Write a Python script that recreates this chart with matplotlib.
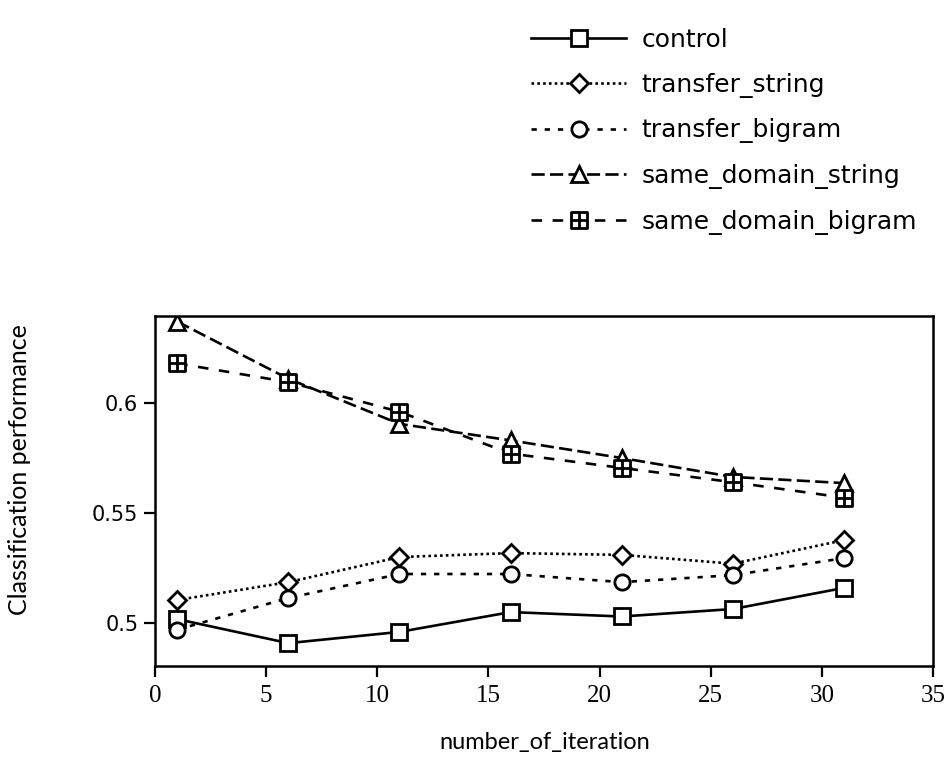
import matplotlib
matplotlib.use("Agg")
import matplotlib.pyplot as plt
import numpy as np
from matplotlib.path import Path

# data
iterations = [1, 6, 11, 16, 21, 26, 31]
control = [0.5018, 0.4909, 0.4960, 0.5050, 0.5030, 0.5064, 0.5160]
transfer_string = [0.5105, 0.5186, 0.5300, 0.5318, 0.5310, 0.5270, 0.5377]
transfer_bigram = [0.4970, 0.5114, 0.5223, 0.5223, 0.5186, 0.5218, 0.5295]
same_domain_string = [0.6370, 0.6110, 0.5905, 0.5830, 0.5750, 0.5664, 0.5636]
same_domain_bigram = [0.6180, 0.6095, 0.5960, 0.5770, 0.5705, 0.5640, 0.5570]
x_ticks = [0, 5, 10, 15, 20, 25, 30, 35]
y_ticks = [0.5, 0.55, 0.6]
y_tick_labels = ["0.5", "0.55", "0.6"]

# square with a cross inside
box_plus = Path(
    [(-1, -1), (1, -1), (1, 1), (-1, 1), (-1, -1), (-1, 0), (1, 0), (0, -1), (0, 1)],
    [Path.MOVETO, Path.LINETO, Path.LINETO, Path.LINETO, Path.CLOSEPOLY,
     Path.MOVETO, Path.LINETO, Path.MOVETO, Path.LINETO])

plt.rcParams["font.family"] = ["DejaVu Sans"]

fig = plt.figure(figsize=(9.53, 7.74), dpi=100)
ax = fig.add_axes([0.1626, 0.1395, 0.8164, 0.4522])

series = [
    ("control", control, "-", "s", 11),
    ("transfer_string", transfer_string, (0, (1, 1.2)), "D", 9),
    ("transfer_bigram", transfer_bigram, (0, (2, 3)), "o", 11),
    ("same_domain_string", same_domain_string, (0, (5, 2)), "^", 11),
    ("same_domain_bigram", same_domain_bigram, (0, (4, 4)), box_plus, 11),
]

for label, vals, ls, mk, ms in series:
    ax.plot(iterations, vals, linestyle=ls, color="black", linewidth=1.9,
            marker=mk, markersize=ms, markerfacecolor="white",
            markeredgecolor="black", markeredgewidth=2.0, label=label)

ax.set_xlim(0, 35)
ax.set_ylim(0.4805, 0.6395)
ax.set_xticks(x_ticks)
ax.set_yticks(y_ticks)
ax.set_yticklabels(y_tick_labels)
ax.tick_params(direction="out", length=8, width=1.6)
ax.tick_params(axis="y", labelsize=15, pad=4)
ax.tick_params(axis="x", pad=6)
for lbl in ax.get_xticklabels():
    lbl.set_family("Liberation Serif")
    lbl.set_fontsize(18)
for s in ax.spines.values():
    s.set_linewidth(1.8)

fig.text(545 / 953, 1 - 742 / 774, "number_of_iteration", fontsize=17,
         family="Lato", ha="center", va="center")
fig.text(20 / 953, 1 - 470 / 774, "Classification performance", fontsize=18,
         family="Lato", rotation=90, ha="center", va="center")

fig.legend(loc="upper left", bbox_to_anchor=(0.534, 0.993), frameon=False,
           fontsize=18, handlelength=3.8, handletextpad=0.6, labelspacing=0.83)

fig.savefig("out.png", dpi=100)
